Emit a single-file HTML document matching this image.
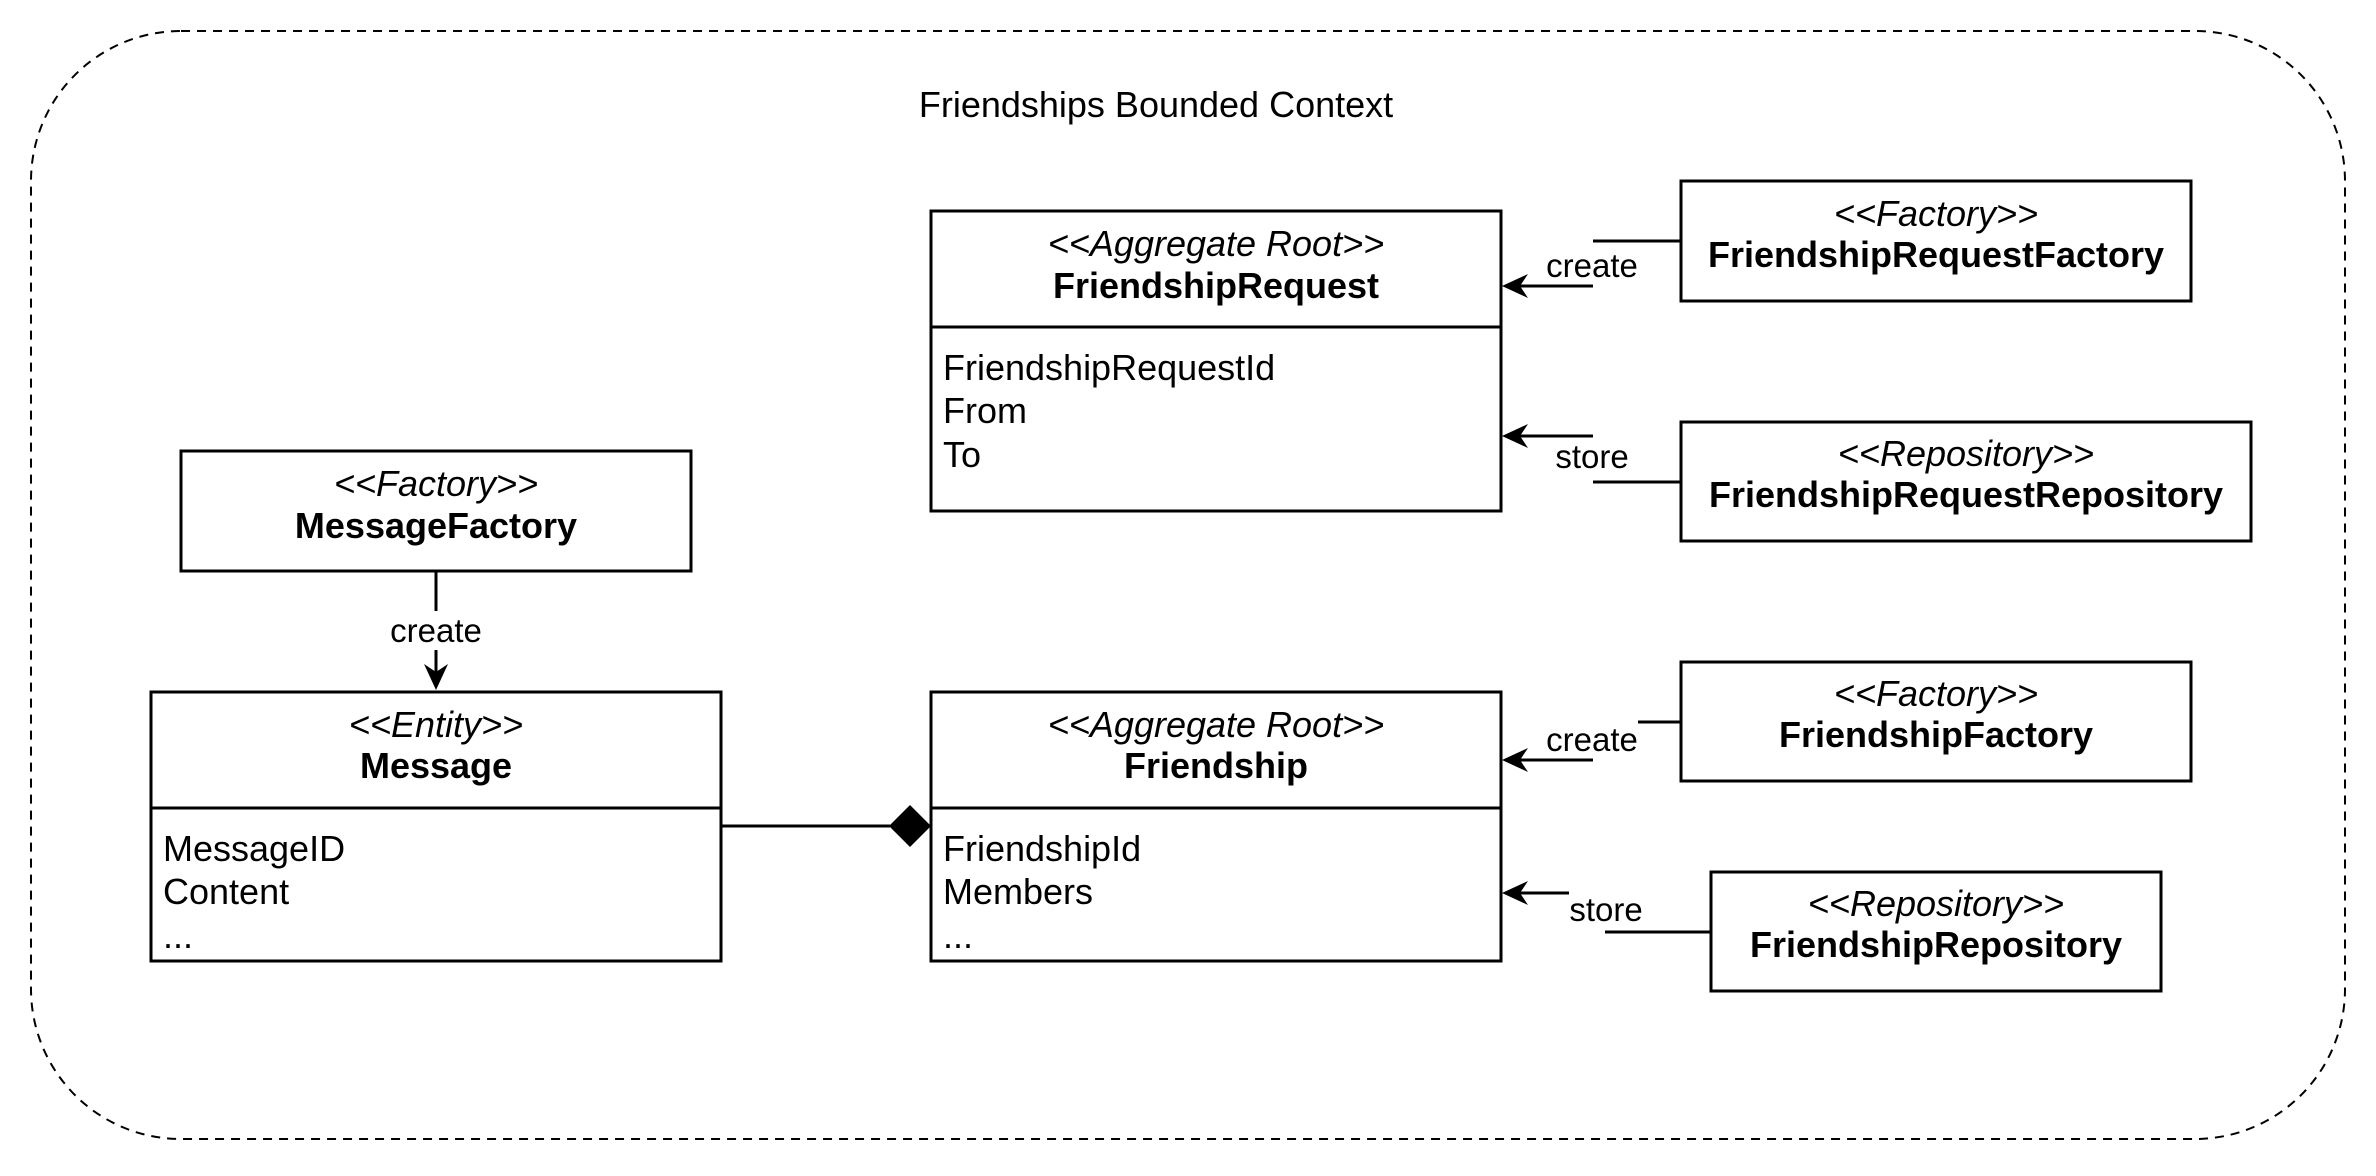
<!DOCTYPE html>
<html><head><meta charset="utf-8"><style>
html,body{margin:0;padding:0;background:#fff;}
svg{display:block;font-family:"Liberation Sans",Arial,sans-serif;}
</style></head><body>
<svg width="2376" height="1176" viewBox="0 0 2376 1176" xmlns="http://www.w3.org/2000/svg">
<rect x="31" y="31" width="2314" height="1108" rx="150" ry="150" fill="none" stroke="#000" stroke-width="2" stroke-dasharray="9,7"/>
<text x="1156" y="117" font-size="36" text-anchor="middle">Friendships Bounded Context</text>

<g fill="#fff" stroke="#000" stroke-width="3">
<rect x="931" y="211" width="570" height="300"/>
<line x1="931" y1="327" x2="1501" y2="327"/>
<rect x="931" y="692" width="570" height="269"/>
<line x1="931" y1="808" x2="1501" y2="808"/>
<rect x="151" y="692" width="570" height="269"/>
<line x1="151" y1="808" x2="721" y2="808"/>
<rect x="181" y="451" width="510" height="120"/>
<rect x="1681" y="181" width="510" height="120"/>
<rect x="1681" y="422" width="570" height="119"/>
<rect x="1681" y="662" width="510" height="119"/>
<rect x="1711" y="872" width="450" height="119"/>
</g>

<g font-size="36" text-anchor="middle">
<text x="1216" y="256" font-style="italic">&lt;&lt;Aggregate Root&gt;&gt;</text>
<text x="1216" y="298" font-weight="bold">FriendshipRequest</text>
<text x="1216" y="737" font-style="italic">&lt;&lt;Aggregate Root&gt;&gt;</text>
<text x="1216" y="778" font-weight="bold">Friendship</text>
<text x="436" y="737" font-style="italic">&lt;&lt;Entity&gt;&gt;</text>
<text x="436" y="778" font-weight="bold">Message</text>
<text x="436" y="496" font-style="italic">&lt;&lt;Factory&gt;&gt;</text>
<text x="436" y="538" font-weight="bold">MessageFactory</text>
<text x="1936" y="226" font-style="italic">&lt;&lt;Factory&gt;&gt;</text>
<text x="1936" y="267" font-weight="bold">FriendshipRequestFactory</text>
<text x="1966" y="466" font-style="italic">&lt;&lt;Repository&gt;&gt;</text>
<text x="1966" y="507" font-weight="bold">FriendshipRequestRepository</text>
<text x="1936" y="706" font-style="italic">&lt;&lt;Factory&gt;&gt;</text>
<text x="1936" y="747" font-weight="bold">FriendshipFactory</text>
<text x="1936" y="916" font-style="italic">&lt;&lt;Repository&gt;&gt;</text>
<text x="1936" y="957" font-weight="bold">FriendshipRepository</text>
</g>
<g font-size="36">
<text x="943" y="380">FriendshipRequestId</text>
<text x="943" y="423">From</text>
<text x="943" y="467">To</text>
<text x="943" y="861">FriendshipId</text>
<text x="943" y="904">Members</text>
<text x="943" y="948">...</text>
<text x="163" y="861">MessageID</text>
<text x="163" y="904">Content</text>
<text x="163" y="948">...</text>
</g>

<g stroke="#000" stroke-width="3" fill="none">
<line x1="1681" y1="241" x2="1593" y2="241"/>
<line x1="1593" y1="286" x2="1520" y2="286"/>
<line x1="1593" y1="436" x2="1520" y2="436"/>
<line x1="1681" y1="482" x2="1593" y2="482"/>
<line x1="1681" y1="722" x2="1638" y2="722"/>
<line x1="1593" y1="760" x2="1520" y2="760"/>
<line x1="1569" y1="893" x2="1520" y2="893"/>
<line x1="1711" y1="932" x2="1605" y2="932"/>
<line x1="436" y1="571" x2="436" y2="611"/>
<line x1="436" y1="650" x2="436" y2="672"/>
<line x1="721" y1="826" x2="890" y2="826"/>
</g>
<g fill="#000">
<path d="M1502,286 L1528,274 L1520,286 L1528,298 Z"/>
<path d="M1502,436 L1528,424 L1520,436 L1528,448 Z"/>
<path d="M1502,760 L1528,748 L1520,760 L1528,772 Z"/>
<path d="M1502,893 L1528,881 L1520,893 L1528,905 Z"/>
<path d="M436,690 L424,664 L436,672 L448,664 Z"/>
<path d="M931,826 L910,805 L889,826 L910,847 Z"/>
</g>
<g font-size="33" text-anchor="middle">
<text x="1592" y="277">create</text>
<text x="1592" y="468">store</text>
<text x="1592" y="751">create</text>
<text x="1606" y="921">store</text>
<text x="436" y="642">create</text>
</g>
</svg>
</body></html>
